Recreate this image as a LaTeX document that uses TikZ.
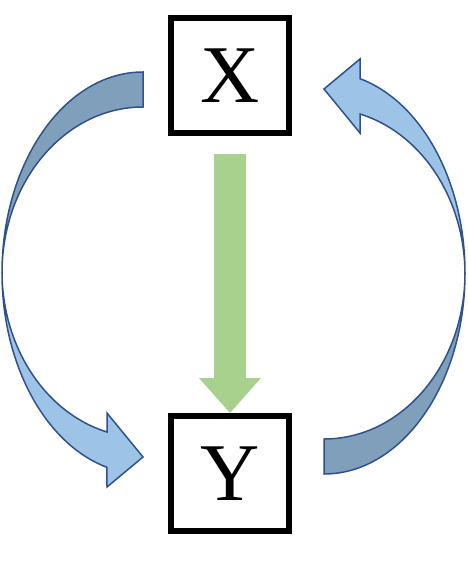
\documentclass[tikz,border=0pt]{standalone}
\usepackage{fontspec}
\setmainfont{Liberation Serif}
\usetikzlibrary{arrows.meta}
\definecolor{darkblue}{RGB}{127,159,186}
\definecolor{lightblue}{RGB}{157,195,230}
\definecolor{edgeblue}{RGB}{47,82,143}
\definecolor{softgreen}{RGB}{169,209,142}
\begin{document}
\begin{tikzpicture}[x=1pt, y=-1pt,
    varbox/.style={draw, line width=6pt, minimum width=118pt, minimum height=115pt, inner sep=0pt, font=\fontsize{82}{82}\selectfont},
    bandline/.style={draw=edgeblue, line width=1.5pt, line join=miter}]
    \useasboundingbox (0, 0) rectangle (467, 574);
    \node[varbox] (nx) at (230, 75.5) {X};
    \node[varbox] (ny) at (230, 473.5) {Y};
    \draw[softgreen, line width=32pt, -{Triangle[width=62pt, length=35pt, line width=0pt]}] ([yshift=-18pt]nx.south) -- (ny.north);
    % curved arrows, the right one is the left one turned round
    \foreach \turn in {0, 180} {
        \begin{scope}[rotate around={\turn:(233.5, 273)}]
            \path[bandline, fill=darkblue] (143, 72) arc[start angle=90, end angle=180, x radius=141pt, y radius=201pt]
                arc[start angle=180, end angle=90, x radius=141pt, y radius=166pt] -- cycle;
            \path[bandline, fill=lightblue] (2, 273) arc[start angle=180, end angle=255.2, x radius=141pt, y radius=201pt]
                -- (107, 487) -- (143, 457) -- (107, 413) -- (107, 432)
                arc[start angle=255.2, end angle=180, x radius=141pt, y radius=166pt] -- cycle;
        \end{scope}
    }
\end{tikzpicture}
\end{document}
